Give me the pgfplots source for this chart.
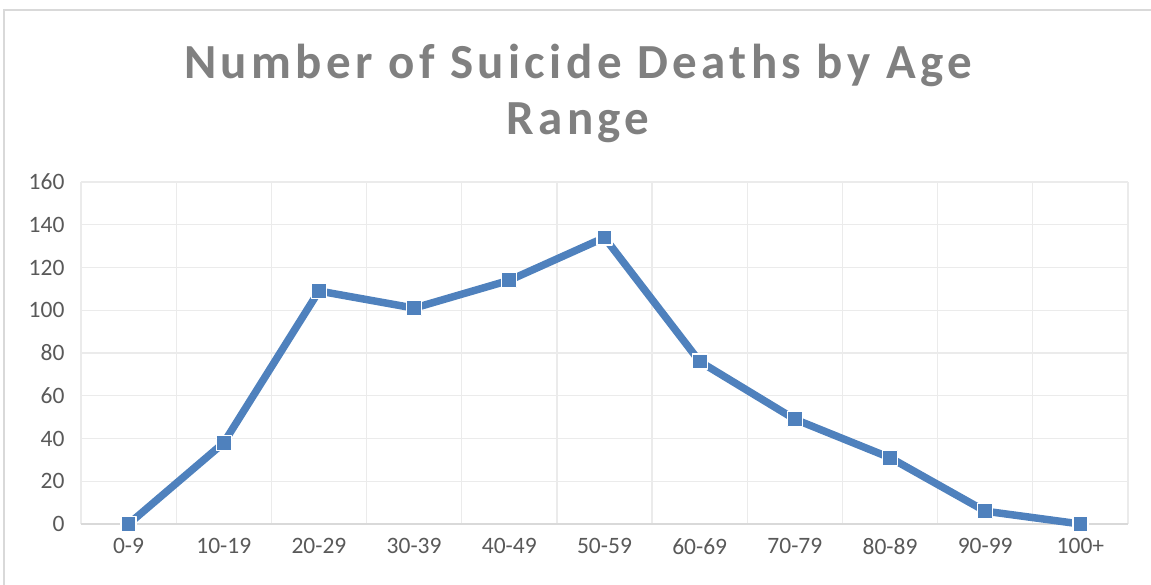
\documentclass[border=0pt]{standalone}
\usepackage{pgfplots}
\pgfplotsset{compat=1.18}
\usepackage{fontspec}
\setmainfont{Carlito}
\newfontfamily\titlefont[LetterSpace=9]{Carlito}
\definecolor{lineblue}{RGB}{79,129,189}
\definecolor{gridgray}{RGB}{235,235,235}
\definecolor{axisgray}{RGB}{217,217,217}
\definecolor{labelgray}{RGB}{89,89,89}
\definecolor{titlegray}{RGB}{128,128,128}
\pgfplotstableread{
x y
0 0
1 38
2 109
3 101
4 114
5 134
6 76
7 49
8 31
9 6
10 0
}\datatable
\begin{document}
\begin{tikzpicture}[x=1pt,y=1pt]
\path[use as bounding box] (0,0) rectangle (1151,585);
\draw[axisgray,line width=1.5pt] (4,-5) -- (4,575) -- (1160,575);
\node[font=\titlefont\bfseries\fontsize{49}{56}\selectfont,text=titlegray,align=center,anchor=center] at (578,492) {Number of Suicide Deaths by Age\\Range};
\begin{axis}[
  scale only axis, width=1047pt, height=342pt,
  anchor=south west, at={(81pt,61pt)},
  xmin=-0.5, xmax=10.5, ymin=0, ymax=160,
  xtick={0,...,10},
  xticklabels={0-9,10-19,20-29,30-39,40-49,50-59,60-69,70-79,80-89,90-99,100+},
  ytick={0,20,...,160},
  minor xtick={-0.5,0.5,...,10.5},
  xminorgrids=true, ymajorgrids=true,
  grid style={gridgray,line width=1.2pt},
  minor grid style={gridgray,line width=1.2pt},
  major tick length=0pt, minor tick length=0pt,
  axis line style={draw=none},
  axis x line*=bottom, axis y line*=left,
  tick label style={font=\fontsize{23.5}{27}\selectfont,text=labelgray},
  /pgf/number format/assume math mode=true,
  yticklabel style={xshift=-13pt},
  xticklabel style={yshift=-11pt},
  clip=false,
]
\draw[axisgray,line width=1.5pt] (axis cs:-0.5,0) -- (axis cs:10.5,0);
\addplot[lineblue,line width=7.5pt,line join=round,mark=square*,
  mark size=7.5pt,mark options={fill=lineblue,draw=white,line width=1.2pt}]
  table[x=x,y=y]{\datatable};
\end{axis}
\end{tikzpicture}
\end{document}
